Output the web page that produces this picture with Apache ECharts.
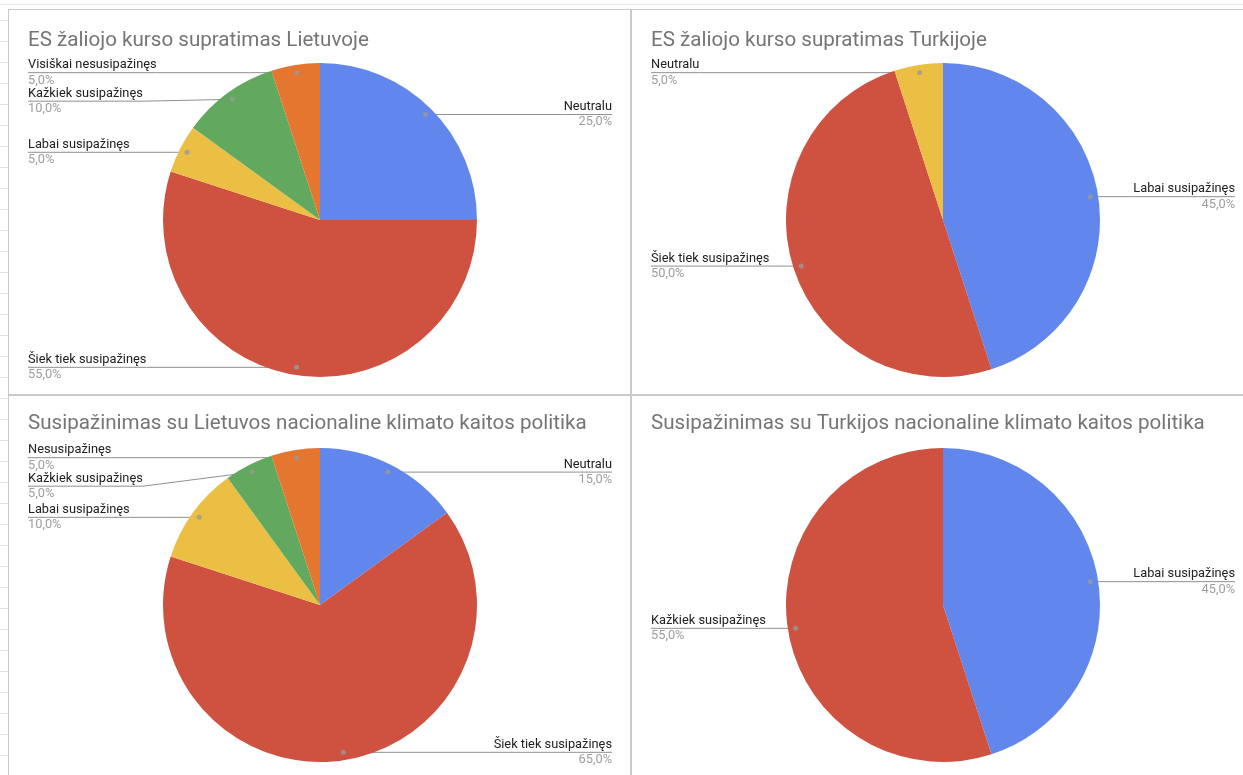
<!DOCTYPE html>
<html><head><meta charset="utf-8">
<script src="https://cdn.jsdelivr.net/npm/echarts@6/dist/echarts.min.js"></script>
<style>
html,body{margin:0;padding:0;width:1243px;height:775px;overflow:hidden;background:#fff;}
.c{position:absolute;width:622px;}
.ln{position:absolute;background:#c9c9c9;}
.strip{position:absolute;left:0;top:0;width:8px;height:775px;
  background:repeating-linear-gradient(to bottom,#fff 0px,#fff 20px,#e3e3e3 20px,#e3e3e3 21px);}
</style></head><body>
<div class="strip"></div>
<div class="ln" style="left:0;top:4px;width:1243px;height:1px;background:#e6e6e6"></div>
<div id="c1" class="c" style="left:9px;top:10px;height:385px"></div>
<div id="c2" class="c" style="left:632px;top:10px;height:385px"></div>
<div id="c3" class="c" style="left:9px;top:396px;height:379px"></div>
<div id="c4" class="c" style="left:632px;top:396px;height:379px"></div>
<div class="ln" style="left:8px;top:9px;width:1235px;height:1px"></div>
<div class="ln" style="left:8px;top:9px;width:1px;height:766px"></div>
<div class="ln" style="left:630px;top:9px;width:2px;height:766px"></div>
<div class="ln" style="left:8px;top:394px;width:1235px;height:2px"></div>
<script>
// ---- data ----
const title1 = 'ES žaliojo kurso supratimas Lietuvoje';
const cats1 = ['Neutralu', 'Šiek tiek susipažinęs', 'Labai susipažinęs', 'Kažkiek susipažinęs', 'Visiškai nesusipažinęs'];
const vals1 = [25, 55, 5, 10, 5];

const title2 = 'ES žaliojo kurso supratimas Turkijoje';
const cats2 = ['Labai susipažinęs', 'Šiek tiek susipažinęs', 'Neutralu'];
const vals2 = [45, 50, 5];

const title3 = 'Susipažinimas su Lietuvos nacionaline klimato kaitos politika';
const cats3 = ['Neutralu', 'Šiek tiek susipažinęs', 'Labai susipažinęs', 'Kažkiek susipažinęs', 'Nesusipažinęs'];
const vals3 = [15, 65, 10, 5, 5];

const title4 = 'Susipažinimas su Turkijos nacionaline klimato kaitos politika';
const cats4 = ['Labai susipažinęs', 'Kažkiek susipažinęs'];
const vals4 = [45, 55];

// ---- style ----
const COLORS = ['#6187ec', '#cf5140', '#ebbf43', '#62a85f', '#e5762f'];
const FONT = 'Roboto, Arial, sans-serif';
const R = 157;
const DOT_F = 0.95;
const LINE_C = '#8f8f8f';

function pct(v, total) { return (v / total * 100).toFixed(1).replace('.', ',') + '%'; }

function build(el, title, cats, vals, center, titleTop) {
  const total = vals.reduce((a, b) => a + b, 0);
  const data = cats.map((n, i) => ({ name: n, value: vals[i], itemStyle: { color: COLORS[i] } }));
  const ghost = cats.map((n, i) => ({ name: n, value: vals[i] }));
  let cum = 0;
  const dots = vals.map(v => { const mid = cum + v / 2; cum += v; return [DOT_F, mid]; });
  const chart = echarts.init(document.getElementById(el), null, { renderer: 'canvas' });
  chart.setOption({
    animation: false,
    title: {
      text: title, left: 19, top: titleTop, padding: 0,
      textStyle: { fontFamily: FONT, fontSize: 20.6, fontWeight: 'normal', color: '#757575' }
    },
    polar: { center: center, radius: R },
    angleAxis: { type: 'value', min: 0, max: total, startAngle: 90, clockwise: true, show: false },
    radiusAxis: { type: 'value', min: 0, max: 1, show: false },
    series: [
      {
        type: 'pie', center: center, radius: R, startAngle: 90, clockwise: true,
        data: data, label: { show: false }, labelLine: { show: false },
        emphasis: { disabled: true }, silent: true
      },
      {
        type: 'pie', center: center, radius: R * DOT_F, startAngle: 90, clockwise: true,
        data: ghost, itemStyle: { color: 'rgba(0,0,0,0)' },
        emphasis: { disabled: true }, silent: true,
        avoidLabelOverlap: true,
        label: {
          show: true, position: 'outer', alignTo: 'edge', edgeDistance: 19, minMargin: 0,
          formatter: p => '{n|' + p.name + '}\n{p|' + pct(p.value, total) + '}',
          rich: {
            n: { fontFamily: FONT, fontSize: 12.8, color: '#212121', lineHeight: 15.5 },
            p: { fontFamily: FONT, fontSize: 12.8, color: '#9e9e9e', lineHeight: 15.5 }
          }
        },
        labelLine: { show: true, length: 0, length2: 0, lineStyle: { color: LINE_C, width: 1 } },
        labelLayout: function (p) {
          const r = p.labelRect, pts = p.labelLinePoints;
          if (!pts) return {};
          const cy = r.y + r.height / 2;
          const left = r.x + r.width / 2 < pts[0][0];
          const near = left ? r.x + r.width : r.x;
          const far = left ? r.x : r.x + r.width;
          return { labelLinePoints: [pts[0], [near, cy], [far, cy]] };
        }
      },
      {
        type: 'scatter', coordinateSystem: 'polar', data: dots,
        symbolSize: 5, itemStyle: { color: '#9a9a9a' }, silent: true, z: 5
      }
    ]
  });
}

build('c1', title1, cats1, vals1, [311, 210], 20);
build('c2', title2, cats2, vals2, [311, 210], 20);
build('c3', title3, cats3, vals3, [311, 209], 17);
build('c4', title4, cats4, vals4, [311, 209], 17);
</script>
</body></html>
